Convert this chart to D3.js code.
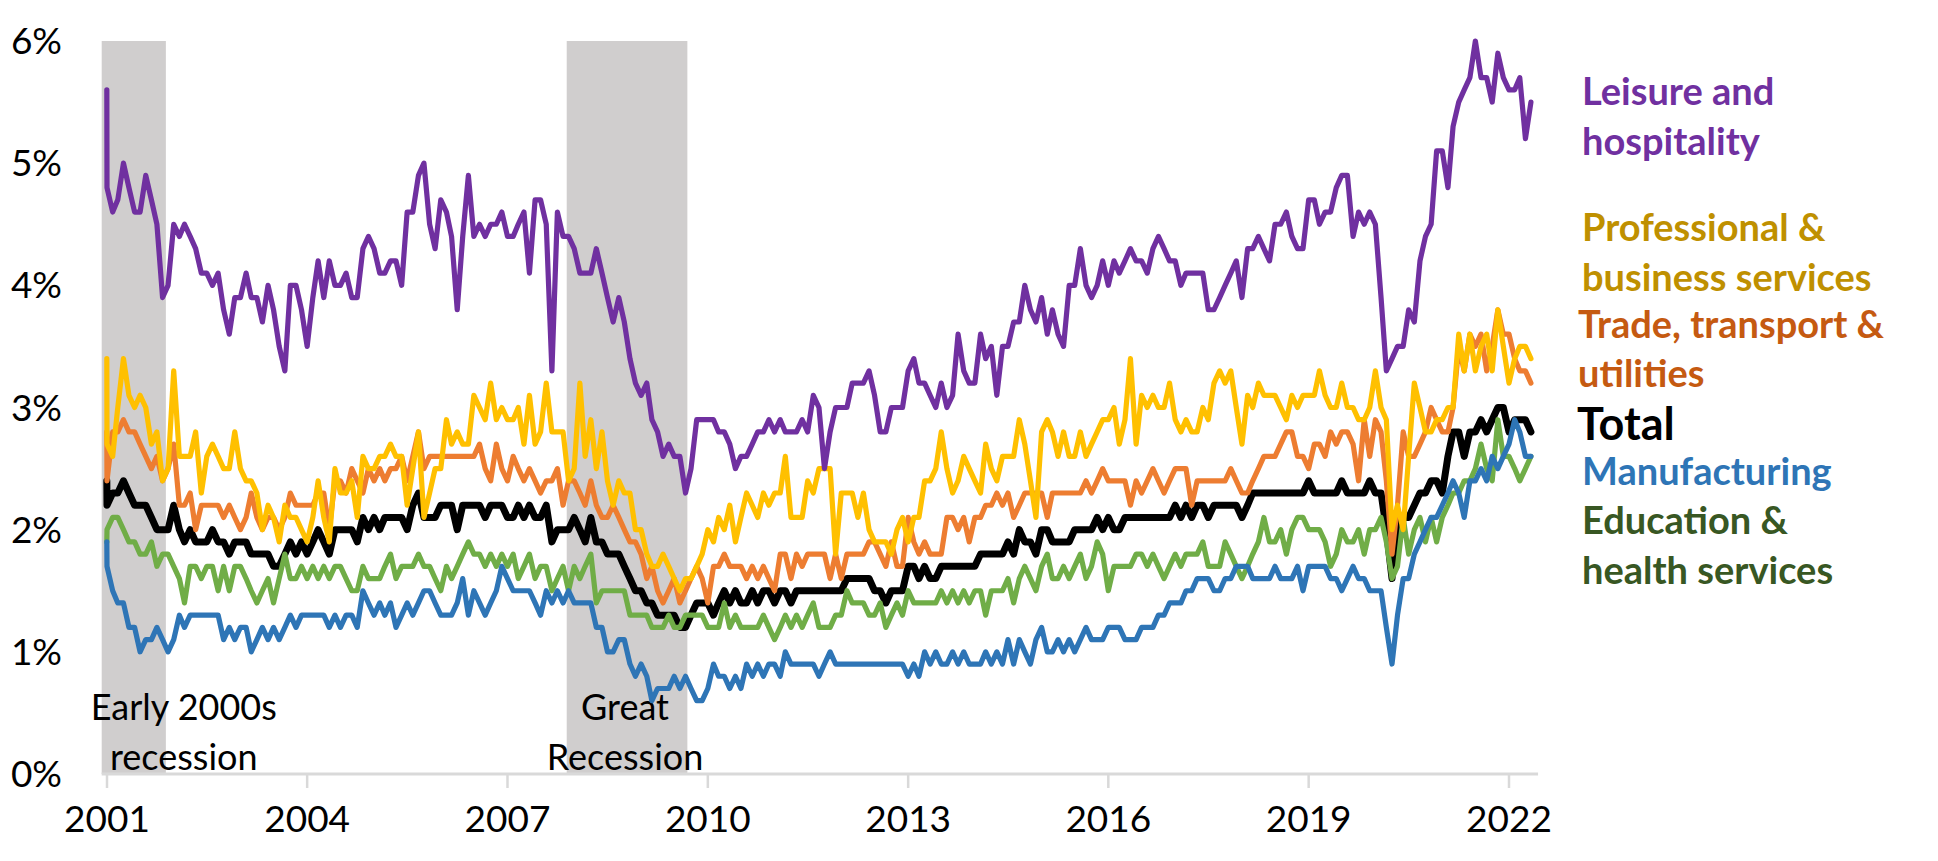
<!DOCTYPE html>
<html><head><meta charset="utf-8">
<script src="https://cdn.jsdelivr.net/npm/d3@7"></script>
<style>
html,body{margin:0;padding:0;background:#fff;}
svg{display:block;font-family:Lato,"Open Sans",sans-serif;}
</style></head><body>
<svg id="chart" width="1938" height="861"></svg>
<script>
// Monthly quit rates (%), first value = Dec 2000, then Jan 2001 .. May 2022
const leisure = [5.6,
4.8,4.6,4.7,5.0,4.8,4.6,4.6,4.9,4.7,4.5,3.9,4.0,
4.5,4.4,4.5,4.4,4.3,4.1,4.1,4.0,4.1,3.8,3.6,3.9,
3.9,4.1,3.9,3.9,3.7,4.0,3.8,3.5,3.3,4.0,4.0,3.8,
3.5,3.9,4.2,3.9,4.2,4.0,4.0,4.1,3.9,3.9,4.3,4.4,
4.3,4.1,4.1,4.2,4.2,4.0,4.6,4.6,4.9,5.0,4.5,4.3,
4.7,4.6,4.4,3.8,4.4,4.9,4.4,4.5,4.4,4.5,4.5,4.6,
4.4,4.4,4.5,4.6,4.1,4.7,4.7,4.5,3.3,4.6,4.4,4.4,
4.3,4.1,4.1,4.1,4.3,4.1,3.9,3.7,3.9,3.7,3.4,3.2,
3.1,3.2,2.9,2.8,2.6,2.7,2.6,2.6,2.3,2.5,2.9,2.9,
2.9,2.9,2.8,2.8,2.7,2.5,2.6,2.6,2.7,2.8,2.8,2.9,
2.8,2.9,2.8,2.8,2.8,2.9,2.8,3.1,3.0,2.5,2.8,3.0,
3.0,3.0,3.2,3.2,3.2,3.3,3.1,2.8,2.8,3.0,3.0,3.0,
3.3,3.4,3.2,3.2,3.1,3.0,3.2,3.0,3.1,3.6,3.3,3.2,
3.2,3.6,3.4,3.5,3.1,3.5,3.5,3.7,3.7,4.0,3.8,3.7,
3.9,3.6,3.8,3.6,3.5,4.0,4.0,4.3,4.0,3.9,4.0,4.2,
4.0,4.2,4.1,4.2,4.3,4.2,4.2,4.1,4.3,4.4,4.3,4.2,
4.2,4.0,4.1,4.1,4.1,4.1,3.8,3.8,3.9,4.0,4.1,4.2,
3.9,4.3,4.3,4.4,4.3,4.2,4.5,4.5,4.6,4.4,4.3,4.3,
4.7,4.7,4.5,4.6,4.6,4.8,4.9,4.9,4.4,4.6,4.5,4.6,
4.5,3.9,3.3,3.4,3.5,3.5,3.8,3.7,4.2,4.4,4.5,5.1,
5.1,4.8,5.3,5.5,5.6,5.7,6.0,5.7,5.7,5.5,5.9,5.7,
5.6,5.6,5.7,5.2,5.5];

const professional = [3.4,
2.7,2.6,3.0,3.4,3.1,3.0,3.1,3.0,2.7,2.8,2.4,2.5,
3.3,2.6,2.6,2.6,2.8,2.3,2.6,2.7,2.6,2.5,2.5,2.8,
2.5,2.4,2.4,2.3,2.0,2.2,2.1,1.9,2.2,2.1,2.1,2.0,
1.9,2.1,2.4,2.1,1.9,2.5,2.3,2.3,2.4,2.1,2.6,2.5,
2.5,2.6,2.6,2.7,2.6,2.6,2.2,2.5,2.8,2.1,2.3,2.5,
2.5,2.9,2.7,2.8,2.7,2.7,3.1,3.0,2.9,3.2,2.9,3.0,
2.9,2.9,3.0,2.7,3.1,2.7,2.8,3.2,2.8,2.8,2.8,2.4,
2.5,3.2,2.6,2.9,2.5,2.8,2.4,2.2,2.4,2.3,2.3,2.0,
2.0,1.8,1.7,1.7,1.8,1.7,1.6,1.5,1.6,1.6,1.7,1.8,
2.0,1.9,2.1,2.0,2.2,1.9,2.1,2.3,2.2,2.1,2.3,2.2,
2.3,2.3,2.6,2.1,2.1,2.1,2.4,2.3,2.5,2.5,2.5,1.8,
2.3,2.3,2.3,2.1,2.3,2.0,1.9,1.9,1.9,1.8,2.0,2.1,
1.9,2.1,2.1,2.4,2.4,2.5,2.8,2.5,2.3,2.4,2.6,2.5,
2.4,2.3,2.7,2.5,2.4,2.6,2.6,2.6,2.9,2.7,2.4,2.1,
2.8,2.9,2.8,2.6,2.8,2.6,2.6,2.8,2.6,2.7,2.8,2.9,
2.9,3.0,2.7,2.9,3.4,2.7,3.1,3.0,3.1,3.0,3.0,3.2,
2.9,2.8,2.9,2.8,2.8,3.0,2.9,3.2,3.3,3.2,3.3,3.0,
2.7,3.1,3.0,3.2,3.1,3.1,3.1,3.0,2.9,3.1,3.0,3.1,
3.1,3.1,3.3,3.1,3.0,3.0,3.2,3.0,3.0,2.9,2.9,3.0,
3.3,3.0,2.9,2.0,2.2,2.0,2.6,3.2,3.0,2.8,2.8,2.9,
2.9,3.0,3.0,3.6,3.3,3.6,3.3,3.5,3.6,3.3,3.8,3.5,
3.2,3.4,3.5,3.5,3.4];

const trade = [2.8,
2.4,2.8,2.8,2.9,2.8,2.8,2.7,2.6,2.5,2.6,2.4,2.5,
2.7,2.2,2.2,2.3,2.0,2.2,2.2,2.2,2.2,2.1,2.2,2.1,
2.0,2.1,2.3,2.1,2.0,2.1,2.1,2.0,2.1,2.3,2.2,2.2,
2.2,2.2,2.3,2.3,2.0,2.4,2.4,2.3,2.5,2.4,2.3,2.5,
2.4,2.5,2.4,2.5,2.5,2.6,2.4,2.6,2.8,2.5,2.6,2.6,
2.6,2.6,2.6,2.6,2.6,2.6,2.6,2.7,2.5,2.4,2.7,2.5,
2.4,2.6,2.5,2.4,2.5,2.4,2.3,2.4,2.4,2.5,2.2,2.4,
2.4,2.3,2.2,2.4,2.2,2.1,2.1,2.2,2.1,2.0,1.9,1.9,
1.8,1.6,1.7,1.5,1.4,1.5,1.6,1.4,1.5,1.6,1.7,1.6,
1.4,1.7,1.7,1.8,1.7,1.7,1.7,1.6,1.7,1.6,1.7,1.6,
1.5,1.8,1.8,1.6,1.8,1.7,1.8,1.8,1.8,1.8,1.6,1.8,
1.6,1.8,1.8,1.8,1.8,1.9,1.9,1.8,1.7,1.9,1.7,1.7,
2.1,1.9,1.8,1.9,1.8,1.8,1.8,2.1,2.1,2.0,2.1,1.9,
2.1,2.1,2.2,2.2,2.3,2.2,2.3,2.1,2.2,2.3,2.3,2.3,
2.3,2.1,2.3,2.3,2.3,2.3,2.3,2.3,2.4,2.3,2.4,2.5,
2.4,2.4,2.4,2.4,2.2,2.4,2.3,2.4,2.5,2.4,2.3,2.4,
2.5,2.5,2.5,2.2,2.4,2.4,2.4,2.4,2.4,2.4,2.5,2.4,
2.3,2.3,2.4,2.5,2.6,2.6,2.6,2.7,2.8,2.8,2.6,2.6,
2.5,2.7,2.7,2.6,2.8,2.7,2.8,2.8,2.7,2.4,2.9,2.6,
2.9,2.8,2.4,1.8,2.2,2.8,2.6,2.6,2.7,2.8,3.0,2.9,
2.8,2.8,3.0,3.5,3.3,3.6,3.5,3.6,3.3,3.5,3.8,3.6,
3.6,3.4,3.3,3.3,3.2];

const total = [2.4,
2.2,2.3,2.3,2.4,2.3,2.2,2.2,2.2,2.1,2.0,2.0,2.0,
2.2,2.0,1.9,2.0,1.9,1.9,1.9,2.0,1.9,1.9,1.8,1.9,
1.9,1.9,1.8,1.8,1.8,1.8,1.7,1.7,1.8,1.9,1.8,1.9,
1.8,1.9,2.0,1.9,1.8,2.0,2.0,2.0,2.0,1.9,2.1,2.0,
2.1,2.0,2.1,2.1,2.1,2.1,2.0,2.2,2.3,2.1,2.1,2.1,
2.2,2.2,2.2,2.0,2.2,2.2,2.2,2.2,2.1,2.2,2.2,2.2,
2.1,2.1,2.2,2.1,2.2,2.1,2.1,2.2,1.9,2.0,2.0,2.0,
2.1,2.0,1.9,2.1,1.9,1.9,1.8,1.8,1.8,1.7,1.6,1.5,
1.5,1.4,1.4,1.3,1.3,1.3,1.3,1.2,1.2,1.3,1.4,1.4,
1.4,1.3,1.4,1.5,1.4,1.5,1.4,1.4,1.5,1.4,1.5,1.5,
1.4,1.5,1.5,1.4,1.5,1.5,1.5,1.5,1.5,1.5,1.5,1.5,
1.5,1.6,1.6,1.6,1.6,1.6,1.5,1.5,1.4,1.5,1.5,1.5,
1.7,1.7,1.6,1.7,1.6,1.6,1.7,1.7,1.7,1.7,1.7,1.7,
1.7,1.8,1.8,1.8,1.8,1.8,1.9,1.8,2.0,1.9,1.9,1.8,
2.0,2.0,1.9,1.9,1.9,1.9,2.0,2.0,2.0,2.0,2.1,2.0,
2.1,2.0,2.0,2.1,2.1,2.1,2.1,2.1,2.1,2.1,2.1,2.1,
2.2,2.1,2.2,2.1,2.2,2.2,2.1,2.2,2.2,2.2,2.2,2.2,
2.1,2.2,2.3,2.3,2.3,2.3,2.3,2.3,2.3,2.3,2.3,2.3,
2.4,2.3,2.3,2.3,2.3,2.3,2.4,2.3,2.3,2.3,2.3,2.4,
2.3,2.3,2.0,1.6,2.1,2.1,2.1,2.2,2.3,2.3,2.4,2.4,
2.3,2.6,2.8,2.8,2.6,2.8,2.8,2.9,2.8,2.9,3.0,3.0,
2.8,2.9,2.9,2.9,2.8];

const manufacturing = [1.9,
1.7,1.5,1.4,1.4,1.2,1.2,1.0,1.1,1.1,1.2,1.1,1.0,
1.1,1.3,1.2,1.3,1.3,1.3,1.3,1.3,1.3,1.1,1.2,1.1,
1.2,1.2,1.0,1.1,1.2,1.1,1.2,1.1,1.2,1.3,1.2,1.3,
1.3,1.3,1.3,1.3,1.2,1.3,1.2,1.3,1.3,1.2,1.5,1.4,
1.3,1.4,1.3,1.4,1.2,1.3,1.4,1.3,1.4,1.5,1.5,1.4,
1.3,1.3,1.3,1.4,1.6,1.3,1.5,1.4,1.3,1.4,1.5,1.7,
1.6,1.5,1.5,1.5,1.5,1.4,1.3,1.5,1.4,1.5,1.4,1.5,
1.4,1.4,1.4,1.4,1.2,1.2,1.0,1.0,1.1,1.1,0.9,0.8,
0.9,0.8,0.6,0.7,0.7,0.7,0.8,0.7,0.8,0.7,0.6,0.6,
0.7,0.9,0.8,0.8,0.7,0.8,0.7,0.9,0.8,0.9,0.8,0.9,
0.9,0.8,1.0,0.9,0.9,0.9,0.9,0.9,0.8,0.9,1.0,0.9,
0.9,0.9,0.9,0.9,0.9,0.9,0.9,0.9,0.9,0.9,0.9,0.9,
0.8,0.9,0.8,1.0,0.9,1.0,0.9,0.9,1.0,0.9,1.0,0.9,
0.9,0.9,1.0,0.9,1.0,0.9,1.1,0.9,1.1,1.0,0.9,1.1,
1.2,1.0,1.0,1.1,1.0,1.1,1.0,1.1,1.2,1.1,1.1,1.1,
1.2,1.2,1.2,1.1,1.1,1.1,1.2,1.2,1.2,1.3,1.3,1.4,
1.4,1.4,1.5,1.5,1.6,1.6,1.6,1.5,1.5,1.6,1.6,1.7,
1.7,1.7,1.6,1.6,1.6,1.6,1.7,1.6,1.6,1.6,1.7,1.5,
1.7,1.7,1.7,1.7,1.6,1.6,1.5,1.6,1.7,1.6,1.6,1.5,
1.5,1.5,1.2,0.9,1.3,1.6,1.6,1.8,1.9,2.0,2.1,2.1,
2.2,2.3,2.4,2.3,2.1,2.4,2.4,2.5,2.4,2.6,2.5,2.6,
2.7,2.9,2.8,2.6,2.6];

const education = [1.9,
2.0,2.1,2.1,2.0,1.9,1.9,1.8,1.8,1.9,1.7,1.8,1.8,
1.7,1.6,1.4,1.7,1.7,1.6,1.7,1.7,1.5,1.7,1.5,1.7,
1.7,1.6,1.5,1.4,1.5,1.6,1.4,1.6,1.8,1.6,1.6,1.7,
1.6,1.7,1.6,1.7,1.6,1.7,1.7,1.6,1.5,1.5,1.7,1.6,
1.6,1.6,1.7,1.8,1.6,1.7,1.7,1.7,1.8,1.7,1.7,1.6,
1.5,1.7,1.6,1.7,1.8,1.9,1.8,1.8,1.7,1.8,1.7,1.8,
1.7,1.8,1.6,1.7,1.8,1.6,1.7,1.7,1.5,1.6,1.7,1.5,
1.7,1.6,1.7,1.8,1.4,1.5,1.5,1.5,1.5,1.5,1.3,1.3,
1.3,1.3,1.2,1.2,1.2,1.3,1.2,1.2,1.3,1.3,1.3,1.3,
1.2,1.2,1.2,1.4,1.2,1.3,1.2,1.2,1.2,1.2,1.3,1.2,
1.1,1.2,1.3,1.2,1.3,1.2,1.3,1.4,1.2,1.2,1.2,1.3,
1.3,1.5,1.4,1.4,1.4,1.3,1.3,1.4,1.2,1.3,1.4,1.3,
1.5,1.4,1.4,1.4,1.4,1.4,1.5,1.4,1.5,1.4,1.5,1.4,
1.5,1.5,1.3,1.5,1.5,1.5,1.6,1.4,1.6,1.7,1.6,1.5,
1.7,1.8,1.6,1.6,1.7,1.6,1.7,1.8,1.6,1.7,1.9,1.8,
1.5,1.7,1.7,1.7,1.7,1.8,1.8,1.7,1.8,1.7,1.6,1.7,
1.8,1.7,1.8,1.8,1.8,1.9,1.7,1.7,1.7,1.9,1.8,1.7,
1.6,1.7,1.8,1.9,2.1,1.9,1.9,2.0,1.8,2.0,2.1,2.1,
2.0,2.0,2.0,1.9,1.7,1.8,2.0,1.9,1.9,2.0,1.8,2.0,
2.0,2.1,1.9,1.6,1.7,2.1,1.8,2.0,2.1,1.9,2.1,1.9,
2.1,2.2,2.3,2.3,2.4,2.4,2.5,2.7,2.5,2.4,2.9,2.6,
2.6,2.5,2.4,2.5,2.6];

const yTickValues = [0,1,2,3,4,5,6];
const xTickYears = [2001,2004,2007,2010,2013,2016,2019,2022];
const recessions = [
  {start:"2000-12-03", end:"2001-11-19", labelAt:"2002-02-25", label:["Early 2000s","recession"]},
  {start:"2007-11-21", end:"2009-09-11", labelAt:"2008-10-05", label:["Great","Recession"]}
];

// dates: the first observation (Dec 2000) sits on top of Jan 2001
const parse = d3.timeParse("%Y-%m-%d");
const dates = [new Date(2000,11,31)].concat(d3.timeMonth.range(new Date(2001,0,1), new Date(2022,5,1)));

const series = [
  {key:"total", values:total, color:"#000000", width:7},
  {key:"education", values:education, color:"#70ad47", width:5.2},
  {key:"manufacturing", values:manufacturing, color:"#2e75b6", width:5.2},
  {key:"trade", values:trade, color:"#ed7d31", width:5.2},
  {key:"professional", values:professional, color:"#ffc000", width:5.2},
  {key:"leisure", values:leisure, color:"#7030a0", width:5.2}
];

const legend = [
  {lines:["Leisure and","hospitality"], color:"#7030a0", x:1582, y:[105,155], size:38},
  {lines:["Professional &","business services"], color:"#bf9000", x:1582, y:[241,291], size:38},
  {lines:["Trade, transport &","utilities"], color:"#c55a11", x:1578, y:[338,387], size:38},
  {lines:["Total"], color:"#000000", x:1577, y:[440], size:45},
  {lines:["Manufacturing"], color:"#2e75b6", x:1582, y:[485], size:38},
  {lines:["Education &","health services"], color:"#385723", x:1582, y:[534,584], size:38}
];

const svg = d3.select("#chart");
const x = d3.scaleTime().domain([new Date(2001,0,1), new Date(2022,0,1)]).range([107,1509]);
const y = d3.scaleLinear().domain([0,6]).range([774,41]);
const axisStart = new Date(2000,11,3), axisEnd = new Date(2022,5,9);

// recession shading
svg.append("g").selectAll("rect").data(recessions).join("rect")
  .attr("x", d=>x(parse(d.start)))
  .attr("width", d=>x(parse(d.end))-x(parse(d.start)))
  .attr("y", y(6)).attr("height", y(0)-y(6))
  .attr("fill","#d0cece");

// recession labels
const rl = svg.append("g").attr("font-size",36).attr("fill","#000").attr("text-anchor","middle");
recessions.forEach(r=>{
  r.label.forEach((t,i)=>{
    rl.append("text").attr("x", x(parse(r.labelAt))).attr("y", 720 + i*50).text(t);
  });
});

// x axis
const xa = svg.append("g");
xa.append("line").attr("x1",x(axisStart)).attr("x2",x(axisEnd)).attr("y1",y(0)).attr("y2",y(0))
  .attr("stroke","#d9d9d9").attr("stroke-width",3);
xa.selectAll("line.tick").data(xTickYears).join("line").attr("class","tick")
  .attr("x1",d=>x(new Date(d,0,1))).attr("x2",d=>x(new Date(d,0,1)))
  .attr("y1",y(0)).attr("y2",y(0)+14).attr("stroke","#d9d9d9").attr("stroke-width",2.5);
xa.selectAll("text").data(xTickYears).join("text")
  .attr("x",d=>x(new Date(d,0,1))).attr("y",832).attr("text-anchor","middle")
  .attr("font-size",37).attr("fill","#000").text(d=>d);

// y labels
svg.append("g").selectAll("text").data(yTickValues).join("text")
  .attr("x",62).attr("y",d=>y(d)+13).attr("text-anchor","end")
  .attr("font-size",37).attr("fill","#000").text(d=>d+"%");

// lines
const line = d3.line().x((d,i)=>x(dates[i])).y(d=>y(d));
svg.append("g").selectAll("path").data(series).join("path")
  .attr("d", d=>line(d.values))
  .attr("fill","none").attr("stroke",d=>d.color).attr("stroke-width",d=>d.width)
  .attr("stroke-linejoin","round").attr("stroke-linecap","round");

// legend labels
const lg = svg.append("g").attr("font-weight","bold");
legend.forEach(l=>{
  l.lines.forEach((t,i)=>{
    lg.append("text").attr("x",l.x).attr("y",l.y[i]).attr("font-size",l.size).attr("fill",l.color).text(t);
  });
});
</script>
</body></html>
